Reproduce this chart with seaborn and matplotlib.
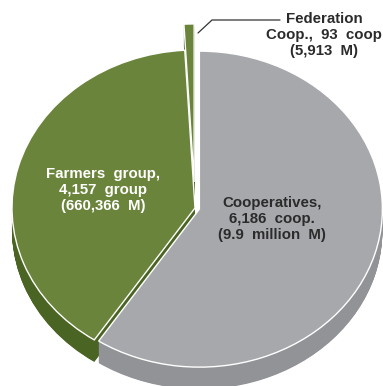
import numpy as np
import matplotlib
matplotlib.use("Agg")
import matplotlib.pyplot as plt
import seaborn as sns
from matplotlib.lines import Line2D

# ---- data ----
categories = ["Cooperatives", "Farmers group", "Federation Coop."]
counts = [6186, 4157, 93]
labels = ["Cooperatives,\n6,186  coop.\n(9.9  million  M)",
          "Farmers  group,\n4,157  group\n(660,366  M)",
          "Federation\nCoop.,  93  coop\n(5,913  M)"]
top_colors = ["#a7a8ac", "#6b843b", "#6b843b"]
side_colors = ["#929397", "#4a6424", "#4a6424"]
explode = [0.025, 0.0, 0.165]

sns.set_theme(style="white")
plt.rcParams['font.family'] = ['Liberation Sans', 'DejaVu Sans']

W, H = 383, 386
fig = plt.figure(figsize=(W / 100, H / 100), dpi=100)
ax = fig.add_axes([0, 0, 1, 1])

# pixel geometry of the tilted pie
cx, cy, rx, ry = 195, 208, 183, 158
depth = 22 / ry

# side (extrusion) layers
for d in np.linspace(depth, 0.002, 40):
    ax.pie(counts, colors=side_colors, startangle=90, counterclock=False,
           explode=explode, center=(0, -d), radius=1,
           wedgeprops=dict(linewidth=0, antialiased=True))

# top faces
ax.pie(counts, colors=top_colors, startangle=90, counterclock=False,
       explode=explode, center=(0, 0), radius=1,
       wedgeprops=dict(linewidth=1.0, edgecolor="white"))

ax.set_aspect('auto')
ax.set_xlim(-cx / rx, (W - cx) / rx)
ax.set_ylim(-(H - cy) / ry, cy / ry)
ax.axis('off')

# labels
fs = 10.8
fig.text(272 / W, 1 - 219 / H, labels[0], ha='center', va='center',
         fontsize=fs, fontweight='bold', color='#2b2b2b', linespacing=1.2)
fig.text(103 / W, 1 - 190 / H, labels[1], ha='center', va='center',
         fontsize=fs, fontweight='bold', color='white', linespacing=1.2)
fig.text(324 / W, 1 - 35 / H, labels[2], ha='center', va='center',
         fontsize=fs, fontweight='bold', color='#2b2b2b', linespacing=1.2)

# leader line for Federation
fig.add_artist(Line2D([198 / W, 212 / W, 280 / W],
                      [1 - 33 / H, 1 - 20 / H, 1 - 20 / H],
                      transform=fig.transFigure, color='#333333', lw=0.9))

fig.savefig("out.png", dpi=100)
